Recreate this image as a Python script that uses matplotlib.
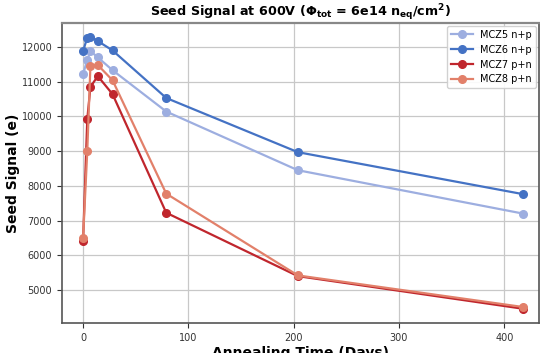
import matplotlib
matplotlib.use("Agg")
import matplotlib.pyplot as plt

days = [0, 4, 7, 14, 28, 79, 204, 418]
mcz5 = [11220, 11620, 11880, 11700, 11330, 10140, 8450, 7200]
mcz6 = [11880, 12270, 12300, 12170, 11900, 10530, 8970, 7760]
mcz7 = [6400, 9920, 10850, 11160, 10640, 7225, 5400, 4460]
mcz8 = [6490, 9000, 11450, 11480, 11040, 7775, 5420, 4510]
labels = ["MCZ5 n+p", "MCZ6 n+p", "MCZ7 p+n", "MCZ8 p+n"]
colors = ["#9daee0", "#4472c4", "#c0262d", "#e2806a"]

fig = plt.figure(figsize=(5.4, 3.53), dpi=100)
ax = fig.add_axes([62/540, 1-323/353, (539-62)/540, (323-23)/353])

for ys, lab, c in zip([mcz5, mcz6, mcz7, mcz8], labels, colors):
    ax.plot(days, ys, marker="o", ms=5.5, lw=1.6, color=c, label=lab)

ax.set_xlim(-20, 433)
ax.set_ylim(4050, 12690)
ax.set_xticks([0, 100, 200, 300, 400])
ax.set_yticks([5000, 6000, 7000, 8000, 9000, 10000, 11000, 12000])
ax.grid(True, color="#c8c8c8", lw=0.9)
ax.set_axisbelow(True)
ax.tick_params(labelsize=7, colors="#333333", length=3.5, width=0.8)
for s in ax.spines.values():
    s.set_color("#555555")
    s.set_linewidth(1.2)
ax.spines["top"].set_color("#888888")
ax.spines["top"].set_linewidth(1.6)

ax.set_title(r"Seed Signal at 600V ($\mathbf{\Phi_{tot}}$ = 6e14 $\mathbf{n_{eq}/cm^{2}}$)",
             fontsize=9.2, fontweight="bold", pad=5)
ax.set_xlabel("Annealing Time (Days)", fontsize=10, fontweight="bold")
ax.set_ylabel("Seed Signal (e)", fontsize=10, fontweight="bold")
ax.xaxis.set_label_coords(0.5, -0.078)
ax.yaxis.set_label_coords(-0.088, 0.5)
ax.legend(loc="upper right", fontsize=7, framealpha=0.9, edgecolor="#cccccc",
          borderaxespad=0.3, handlelength=2.2)

fig.savefig("out.png", dpi=100)
